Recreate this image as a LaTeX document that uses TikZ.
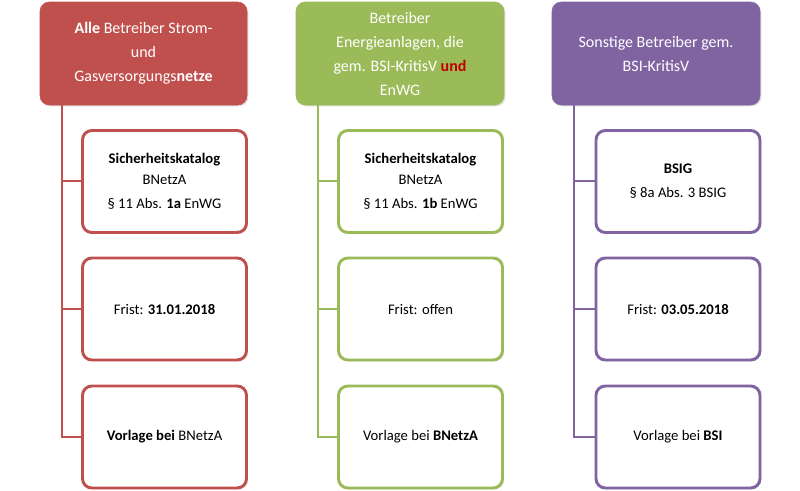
\documentclass[tikz,border=0pt]{standalone}
\usepackage{fontspec}
\setmainfont{Carlito}
\usetikzlibrary{shadows}
\definecolor{cred}{HTML}{C0504D}
\definecolor{cgreen}{HTML}{9BBB59}
\definecolor{cpurple}{HTML}{8064A2}
\definecolor{dred}{HTML}{C00000}
\begin{document}
\begin{tikzpicture}[x=0.75pt,y=-0.75pt,
  head/.style={rounded corners=7pt,fill=#1,draw=#1,text=white,align=center,
    font=\fontsize{12}{18}\selectfont,drop shadow={opacity=0.25,shadow xshift=1pt,shadow yshift=-1pt}},
  child/.style={rounded corners=7pt,fill=white,draw=#1,line width=2.2pt,align=center,
    font=\fontsize{11}{16}\selectfont,drop shadow={opacity=0.25,shadow xshift=1pt,shadow yshift=-1pt}},
  conn/.style={draw=#1,line width=2.2pt}]
\useasboundingbox (0,0) rectangle (800,490);
\fill[white] (0,0) rectangle (800,490);
% columns
\foreach \c/\hx/\cx/\lx in {cred/40/82/62, cgreen/296/337/318, cpurple/552/596/574}{
  \coordinate (t\c) at (\lx,104);
  \coordinate (b\c) at (\lx,438);
  \draw[conn=\c] (t\c) -- (b\c);
  \foreach \y/\k in {181/1,309/2,437/3}{
    \coordinate (m\c\k) at (\lx,\y);
    \draw[conn=\c] (m\c\k) -- (\cx,\y);
  }
}
% headers
\node[head=cred,minimum width=207*0.75pt,minimum height=103*0.75pt] (h1) at (143.5,53.5) {\textbf{Alle} Betreiber Strom-\\und\\Gasversorgungs\textbf{netze}};
\node[head=cgreen,minimum width=208*0.75pt,minimum height=103*0.75pt] (h2) at (400,53.5) {Betreiber\\Energieanlagen, die\\gem. BSI-KritisV \textcolor{dred}{\textbf{und}}\\EnWG};
\node[head=cpurple,minimum width=208*0.75pt,minimum height=103*0.75pt] (h3) at (656,53.5) {Sonstige Betreiber gem.\\BSI-KritisV};
% children
\tikzset{cw/.style={minimum width=164*0.75pt,minimum height=102*0.75pt}}
\node[child=cred,cw] (r1) at (164.5,181.5) {\textbf{Sicherheitskatalog}\\BNetzA\\[2pt]§ 11 Abs. \textbf{1a} EnWG};
\node[child=cred,cw] (r2) at (164.5,309) {Frist: \textbf{31.01.2018}};
\node[child=cred,cw] (r3) at (164.5,437) {\textbf{Vorlage bei} BNetzA};
\node[child=cgreen,cw] (g1) at (420.5,181.5) {\textbf{Sicherheitskatalog}\\BNetzA\\[2pt]§ 11 Abs. \textbf{1b} EnWG};
\node[child=cgreen,cw] (g2) at (420.5,309) {Frist: offen};
\node[child=cgreen,cw] (g3) at (420.5,437) {Vorlage bei \textbf{BNetzA}};
\node[child=cpurple,cw] (p1) at (678,181.5) {\textbf{BSIG}\\[2pt]§ 8a Abs. 3 BSIG};
\node[child=cpurple,cw] (p2) at (678,309) {Frist: \textbf{03.05.2018}};
\node[child=cpurple,cw] (p3) at (678,437) {Vorlage bei \textbf{BSI}};
\end{tikzpicture}
\end{document}
